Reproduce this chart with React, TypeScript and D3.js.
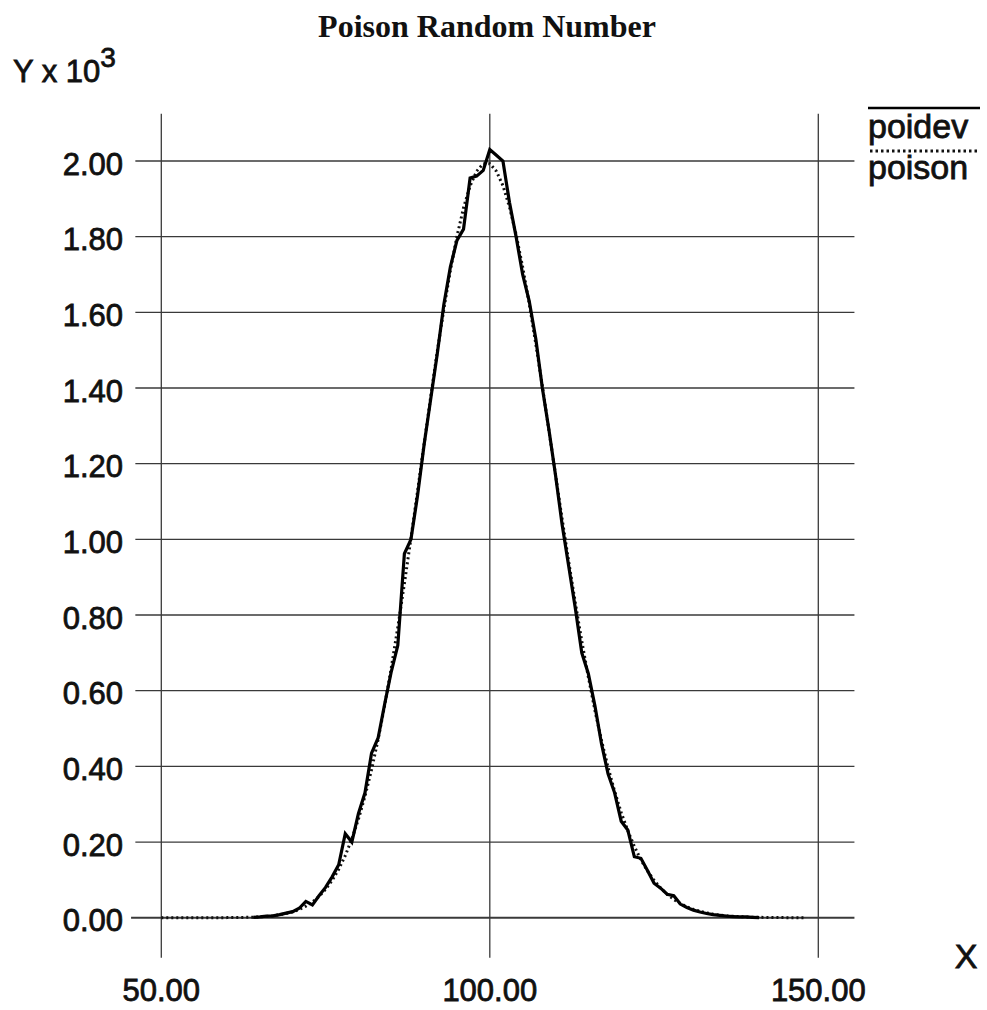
import React from "react";
import * as d3 from "d3";

// ---------- data (values in units of 10^3) ----------
const poisonX: number[] = [
  50, 51, 52, 53, 54, 55, 56, 57, 58, 59, 60, 61, 62, 63, 64, 65, 66, 67, 68, 69,
  70, 71, 72, 73, 74, 75, 76, 77, 78, 79, 80, 81, 82, 83, 84, 85, 86, 87, 88, 89,
  90, 91, 92, 93, 94, 95, 96, 97, 98, 99, 100, 101, 102, 103, 104, 105, 106, 107, 108, 109,
  110, 111, 112, 113, 114, 115, 116, 117, 118, 119, 120, 121, 122, 123, 124, 125, 126, 127, 128, 129,
  130, 131, 132, 133, 134, 135, 136, 137, 138, 139, 140, 141, 142, 143, 144, 145, 146, 147, 148,
];
const poisonY: number[] = [
  0, 0, 0, 0, 0, 0, 0, 0, 0, 0, 0.0002, 0.0004, 0.0006, 0.001, 0.0015, 0.0023, 0.0035, 0.0052, 0.0076, 0.011,
  0.0155, 0.0219, 0.0304, 0.0416, 0.0562, 0.0749, 0.0986, 0.128, 0.164, 0.208, 0.26, 0.321, 0.391, 0.471, 0.561, 0.66, 0.768, 0.883, 1.003, 1.127,
  1.252, 1.376, 1.496, 1.608, 1.711, 1.801, 1.876, 1.934, 1.973, 1.993, 1.993, 1.973, 1.935, 1.878, 1.806, 1.72, 1.623, 1.517, 1.404, 1.288,
  1.171, 1.055, 0.942, 0.834, 0.731, 0.636, 0.548, 0.469, 0.397, 0.334, 0.278, 0.23, 0.1885, 0.1533, 0.1236, 0.0989, 0.0785, 0.0618, 0.0483, 0.0374,
  0.0288, 0.022, 0.0167, 0.0126, 0.0094, 0.007, 0.0051, 0.0037, 0.0027, 0.0019, 0.0014, 0.001, 0.0007, 0.0005, 0.0003, 0.0002, 0.0001, 0, 0,
];

const poidevX: number[] = [
  64, 65, 66, 67, 68, 69, 70, 71, 72, 73, 74, 75, 76, 77, 78, 79, 80, 81, 82, 83,
  84, 85, 86, 87, 88, 89, 90, 91, 92, 93, 94, 95, 96, 97, 98, 99, 100, 101, 102, 103,
  104, 105, 106, 107, 108, 109, 110, 111, 112, 113, 114, 115, 116, 117, 118, 119, 120, 121, 122, 123,
  124, 125, 126, 127, 128, 129, 130, 131, 132, 133, 134, 135, 136, 137, 138, 139, 140, 141,
];
const poidevY: number[] = [
  0.001, 0.002, 0.004, 0.005, 0.008, 0.012, 0.016, 0.025, 0.043, 0.034, 0.058, 0.08, 0.108, 0.14, 0.222, 0.2, 0.275, 0.33, 0.435, 0.475,
  0.565, 0.65, 0.72, 0.962, 1.0, 1.115, 1.25, 1.37, 1.49, 1.62, 1.72, 1.79, 1.82, 1.955, 1.96, 1.975, 2.03, 2.015, 2.0, 1.89,
  1.8, 1.7, 1.63, 1.53, 1.4, 1.29, 1.17, 1.04, 0.93, 0.82, 0.7, 0.645, 0.56, 0.46, 0.38, 0.33, 0.255, 0.232, 0.161, 0.157,
  0.125, 0.091, 0.078, 0.062, 0.058, 0.036, 0.027, 0.02, 0.015, 0.011, 0.008, 0.006, 0.004, 0.003, 0.002, 0.002, 0.001, 0,
];

const xTicks: number[] = [50, 100, 150];
const yTicks: number[] = [0, 0.2, 0.4, 0.6, 0.8, 1.0, 1.2, 1.4, 1.6, 1.8, 2.0];
const seriesNames: string[] = ["poidev", "poison"];
const titleText = "Poison Random Number";

export default function App() {
  const W = 987;
  const H = 1010;
  const x = d3.scaleLinear().domain([50, 150]).range([161.3, 818.3]);
  const y = d3.scaleLinear().domain([0, 2]).range([917.7, 161]);

  const line = d3
    .line<[number, number]>()
    .x((d) => x(d[0]))
    .y((d) => y(d[1]));

  const poisonPts: [number, number][] = poisonX.map((v, i) => [v, poisonY[i]]);
  const poidevPts: [number, number][] = poidevX.map((v, i) => [v, poidevY[i]]);

  const sans = "'Liberation Sans', Arial, Helvetica, sans-serif";
  const serif = "'Liberation Serif', 'Times New Roman', serif";
  const gridColor = "#3a3a3a";
  const txt = { fontFamily: sans, fill: "#111", stroke: "#111", strokeWidth: 0.8 };

  const gridLeft = x(46.05);
  const gridRight = x(155.5);
  const vTop = y(2.125);
  const vBottom = y(-0.106);

  return (
    <svg
      width={W}
      height={H}
      style={{ position: "absolute", left: 0, top: 0, background: "#fff" }}
    >
      <rect x={0} y={0} width={W} height={H} fill="#fff" />
      {/* title */}
      <text
        x={487}
        y={37}
        textAnchor="middle"
        fontFamily={serif}
        fontWeight="bold"
        fontSize={32}
        fill="#111"
      >
        {titleText}
      </text>
      {/* y axis label */}
      <text x={13} y={82} fontSize={31} {...txt}>
        Y x 10
        <tspan dy={-15} fontSize={28}>
          3
        </tspan>
      </text>
      {/* horizontal gridlines */}
      {yTicks.map((t) => (
        <g key={"h" + t}>
          <line
            x1={t === 0 ? x(45.4) : gridLeft}
            x2={gridRight}
            y1={y(t)}
            y2={y(t)}
            stroke={gridColor}
            strokeWidth={t === 0 ? 2 : 1.3}
          />
          <text x={123} y={y(t) + 13.5} textAnchor="end" fontSize={31} {...txt}>
            {t.toFixed(2)}
          </text>
        </g>
      ))}
      {/* vertical gridlines */}
      {xTicks.map((t) => (
        <g key={"v" + t}>
          <line
            x1={x(t)}
            x2={x(t)}
            y1={vTop}
            y2={vBottom}
            stroke={gridColor}
            strokeWidth={1.3}
          />
          <text x={x(t)} y={1001} textAnchor="middle" fontSize={31} {...txt}>
            {t.toFixed(2)}
          </text>
        </g>
      ))}
      {/* x axis label */}
      <text x={966} y={968} textAnchor="middle" fontSize={34} {...txt}>
        X
      </text>
      {/* series */}
      <path
        d={line(poisonPts) || ""}
        fill="none"
        stroke="#111"
        strokeWidth={3}
        strokeDasharray="2,3"
      />
      <path d={line(poidevPts) || ""} fill="none" stroke="#000" strokeWidth={3.2} />
      {/* legend */}
      <line x1={868} x2={980} y1={108} y2={108} stroke="#000" strokeWidth={2.5} />
      <text x={868} y={138} fontSize={34} {...txt}>
        {seriesNames[0]}
      </text>
      <line
        x1={870}
        x2={980}
        y1={151}
        y2={151}
        stroke="#111"
        strokeWidth={3}
        strokeDasharray="2.5,3"
      />
      <text x={868} y={179} fontSize={34} {...txt}>
        {seriesNames[1]}
      </text>
    </svg>
  );
}
